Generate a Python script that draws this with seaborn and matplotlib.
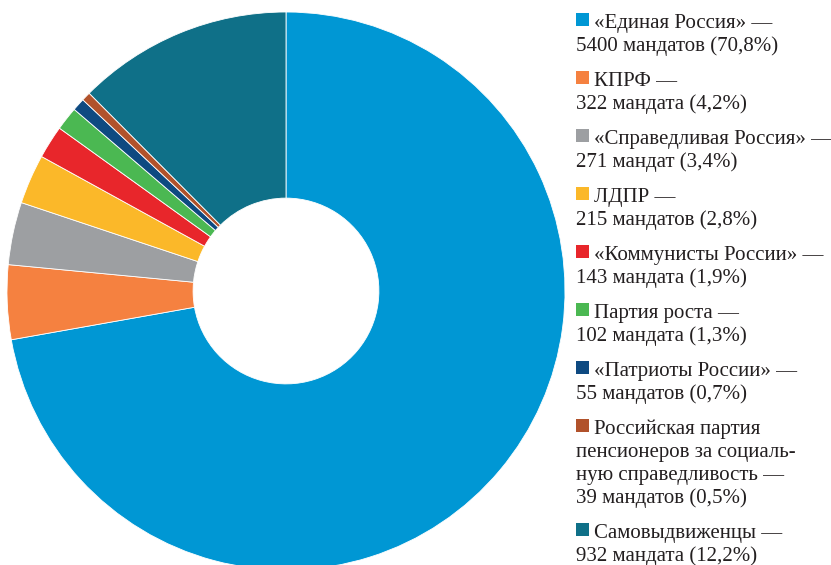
import matplotlib
matplotlib.use("Agg")
import matplotlib.pyplot as plt
from matplotlib.patches import Rectangle
import seaborn as sns

# Данные: мандаты по партиям
parties = ["«Единая Россия»", "КПРФ", "«Справедливая Россия»", "ЛДПР",
           "«Коммунисты России»", "Партия роста", "«Патриоты России»",
           "Российская партия пенсионеров за социальную справедливость",
           "Самовыдвиженцы"]
seats = [5400, 322, 271, 215, 143, 102, 55, 39, 932]
pct_labels = ["70,8%", "4,2%", "3,4%", "2,8%", "1,9%", "1,3%", "0,7%", "0,5%", "12,2%"]
colors = ["#0097D4", "#F58140", "#9D9FA2", "#FBB829", "#E8262B",
          "#4BB852", "#0E4A81", "#B1522B", "#0F7088"]
legend_lines = [
    ["«Единая Россия» —", "5400 мандатов (70,8%)"],
    ["КПРФ —", "322 мандата (4,2%)"],
    ["«Справедливая Россия» —", "271 мандат (3,4%)"],
    ["ЛДПР —", "215 мандатов (2,8%)"],
    ["«Коммунисты России» —", "143 мандата (1,9%)"],
    ["Партия роста —", "102 мандата (1,3%)"],
    ["«Патриоты России» —", "55 мандатов (0,7%)"],
    ["Российская партия", "пенсионеров за социаль-", "ную справедливость —", "39 мандатов (0,5%)"],
    ["Самовыдвиженцы —", "932 мандата (12,2%)"],
]

sns.set_theme(style="white")
plt.rcParams["font.family"] = ["Liberation Serif", "DejaVu Serif"]

W, H = 831, 565
fig = plt.figure(figsize=(W / 100, H / 100), dpi=100)

# пончик: центр (286, 291) px, радиус 279 px
cx, cy, r = 286, 291, 279
ax = fig.add_axes([(cx - r) / W, 1 - (cy + r) / H, 2 * r / W, 2 * r / H])
ax.pie(seats, colors=colors, startangle=90, counterclock=False,
       wedgeprops=dict(width=0.667, edgecolor="white", linewidth=0.6))
ax.set_xlim(-1, 1)
ax.set_ylim(-1, 1)
ax.set_aspect("equal")
ax.axis("off")

# легенда вручную
def fx(px):
    return px / W

def fy(py):
    return 1 - py / H

top = 13
line_h = 23
for color, lines in zip(colors, legend_lines):
    fig.patches.append(Rectangle((fx(576), fy(top + 13)), 13 / W, 13 / H,
                                 facecolor=color, edgecolor="none",
                                 transform=fig.transFigure, figure=fig))
    for i, line in enumerate(lines):
        fig.text(fx(594) if i == 0 else fx(576), fy(top + 15 + i * line_h), line,
                 fontsize=15, color="#231F20", va="baseline", ha="left")
    top += len(lines) * line_h + 12

fig.savefig("out.png", dpi=100)
